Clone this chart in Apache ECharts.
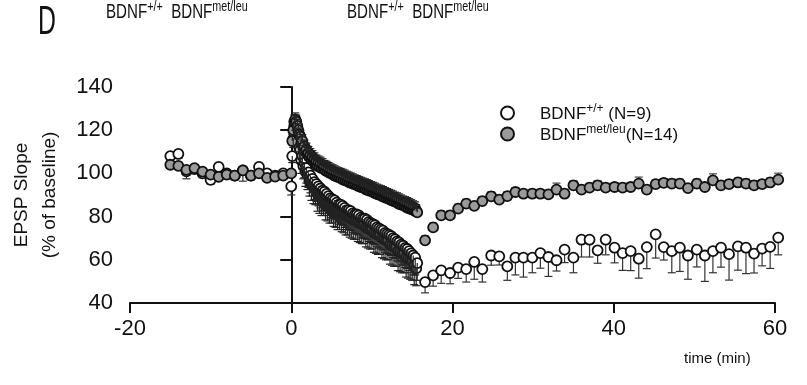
<!DOCTYPE html>
<html>
<head>
<meta charset="utf-8">
<script src="https://cdn.jsdelivr.net/npm/echarts@6/dist/echarts.min.js"></script>
<style>html,body{margin:0;padding:0;background:#fff}#c{width:807px;height:385px}</style>
</head>
<body>
<div id="c"></div>
<script>
// ---- Data ----
// Baseline, 1-min bins
const baseTimes = [-15,-14,-13,-12,-11,-10,-9,-8,-7,-6,-5,-4,-3,-2,-1,0];
const wtBase    = [108,109,101,102,100,97,103,100,99,101.4,99,103,100,99,100,94];
const wtBaseErr = [3,2,3.5,2,2,2,2,2.5,2,5,2,2,2,2,2,4];
const mlBase    = [104,103.5,101.6,102.4,100.8,99.4,98.4,99.4,99,101.4,99,100,97.9,98.5,99,100];
const mlBaseErr = [1.5,1.5,1.5,1.5,1.5,1.5,1.5,1.5,1.5,1.5,1.5,1.5,1.5,1.5,1.5,1.5];

// Dense recording after stimulation (0 - 15.6 min)
const denseTimes = [
  0.125,0.25,0.375,0.5,0.625,0.75,0.875,1,
  1.125,1.25,1.375,1.5,1.625,1.75,1.875,2,
  2.125,2.25,2.375,2.5,2.625,2.75,2.875,3,
  3.125,3.25,3.375,3.5,3.625,3.75,3.875,4,
  4.125,4.25,4.375,4.5,4.625,4.75,4.875,5,
  5.125,5.25,5.375,5.5,5.625,5.75,5.875,6,
  6.125,6.25,6.375,6.5,6.625,6.75,6.875,7,
  7.125,7.25,7.375,7.5,7.625,7.75,7.875,8,
  8.125,8.25,8.375,8.5,8.625,8.75,8.875,9,
  9.125,9.25,9.375,9.5,9.625,9.75,9.875,10,
  10.125,10.25,10.375,10.5,10.625,10.75,10.875,11,
  11.125,11.25,11.375,11.5,11.625,11.75,11.875,12,
  12.125,12.25,12.375,12.5,12.625,12.75,12.875,13,
  13.125,13.25,13.375,13.5,13.625,13.75,13.875,14,
  14.125,14.25,14.375,14.5,14.625,14.75,14.875,15,
  15.125,15.25,15.375,15.5,15.625];
const wtDense = [
  108,116,122,124,121,118,115,112,
  111,106,108,103.5,105,101,102.5,99.5,
  100.5,96.5,99,95.5,97.5,94,96,93.5,
  95,91.5,94,90.5,93,89.5,92,89.5,
  91.5,87.5,90.5,87,89.5,86,88.5,86,
  88,84.5,87.5,84,86.5,83,85.5,83,
  85.5,82,85,81.5,84,80.5,83,80.5,
  83,79.5,82.5,79,81.5,78.5,81,78.5,
  81,77.5,80.5,77,79.5,76.5,79,76.5,
  79,75,78.5,74.5,77.5,74,77,74,
  76.5,72.5,76,72,75,71.5,74.5,71.5,
  74,70,73.5,69.5,72.5,69,72,69,
  71.5,67,71,66.5,70,66,69.5,66,
  68.5,64,68,63.5,67,63,66.5,63,
  65.5,61,65,60.5,64,60,63,59.5,
  62,57.5,61,56,58.5];
const wtDenseErr = [
  3,4,4,4,5,5,5,5,
  6,6,6,6,7,7,7,7,
  7,7,8,8,8,8,8,8,
  8,9,9,9,9,9,9,9,
  9,9,9,9,9,9,9,9,
  9,9,9,9,9,9,9,9,
  9,9,9,9,9,9,9,9,
  9,9,9,9,9,9,9,9,
  9,9,9,9,9,9,9,9,
  9,9,9,9,9,9,9,9,
  9,9,9,9,9,9,9,9,
  9,9,9,9,9,9,9,9,
  9,9,9,9,9,9,9,9,
  9,9,9,9,9,9,9,9,
  9,9,9,9,9,9,9,9,
  9,9,8,8,8];
const mlDense = [
  115,120,124,125,124,122,120,118,
  117,114,115,112,112.5,110,111,109,
  109.5,107.5,108.5,106.5,107.5,105.5,106.5,105,
  105.5,103.5,105,103,104.5,102.5,103.8,102.5,
  103,101.3,102.6,100.8,102,100.3,101.4,100,
  101,99.2,100.5,98.8,100,98.4,99.6,98.2,
  99.3,97.5,98.9,97,98.5,96.7,98,96.5,
  97.6,95.8,97.2,95.5,96.8,95.1,96.3,95,
  96,94.3,95.6,93.9,95.2,93.6,94.8,93.5,
  94.5,92.6,94.1,92.3,93.7,91.9,93.2,91.8,
  92.9,91.1,92.5,90.7,92,90.3,91.6,90.2,
  91.3,89.5,90.9,89.1,90.4,88.7,90,88.6,
  89.6,87.9,89.2,87.5,88.8,87.1,88.3,87,
  88,86.1,87.5,85.7,87,85.4,86.5,85.2,
  86.2,84.4,85.8,84,85.3,83.6,84.8,83.4,
  84.3,82.8,83.8,82.5,82];
const mlDenseErr = [
  3,3,3,3,3,3,3,3,
  3,3,3,3,3,3,3,3,
  3,3,3,3,3,3,3,3,
  3,3,3,3,3,3,3,3,
  3,3,3,3,3,3,3,3,
  3,3,3,3,3,3,3,3,
  3,3,3,3,3,3,3,3,
  3,3,3,3,3,3,3,3,
  3,3,3,3,3,3,3,3,
  3,3,3,3,3,3,3,3,
  3,3,3,3,3,3,3,3,
  3,3,3,3,3,3,3,3,
  3,3,3,3,3,3,3,3,
  3,3,3,3,3,3,3,3,
  3,3,3,3,3,3,3,3,
  3,3,3,3,2];

// Post period, ~1-min bins
const postTimes = [16.6,17.6,18.6,19.7,20.7,21.7,22.7,23.7,24.8,25.8,26.8,27.8,28.8,29.9,30.9,31.9,32.9,33.9,35.0,36.0,
  37.0,38.0,39.0,40.1,41.1,42.1,43.1,44.1,45.2,46.2,47.2,48.2,49.2,50.3,51.3,52.3,53.3,54.3,55.4,56.4,57.4,58.4,59.4,60.4];
const wtPost = [49.7,52.8,55.1,53.9,56.4,55.7,59,55.7,62,61.6,57,61,61,61,63.1,61.3,59.8,64.7,61,69.3,
  69.3,64.4,69.3,65.6,63.1,64,60.5,65.9,71.8,65.9,64,65.6,62,64.7,62,64,65.6,62.6,66.2,65.6,62.9,65.2,66,70.3];
const wtPostErr = [5,5,6,5,5,6,8,6,4.5,4,6.5,8,9,7,7,9,5,6,7,8,
  8,6,7,7,8,9,9,10,11,6,10,11,11,8,12,10,9,12,11,12,9,8,10,8];
const mlPost = [69,75,80.6,80.6,83.7,86,85,87.2,89.4,87.9,89.5,91.4,90.6,90.6,90.6,90.3,92.5,90.6,94.5,92.5,
  93.4,94.5,93.4,93.7,93.4,93.7,95.3,92.5,95,95.6,95.3,95.3,93.2,95.3,93.7,96.8,94.5,95,95.8,95.3,94.5,95,95.8,97.1];
const mlPostErr = [2,2,2,2,2,2,2,2,2,2,2,2,2,2,2,2,3,2,2,2,
  2,2,2,2,2,2,3,2,2,2,2,2,2,2,2,3,2,2,2,2,2,2,2,3];

const xTicks = [-20, 0, 20, 40, 60];
const yTicks = [40, 60, 80, 100, 120, 140];

// ---- build ----
function pairs(t, v) { return t.map((x, i) => [x, v[i]]); }
function triples(t, v, e) { return t.map((x, i) => [x, v[i], e[i]]); }
const allT  = baseTimes.concat(denseTimes, postTimes);
const wtAllV = wtBase.concat(wtDense, wtPost);
const mlAllV = mlBase.concat(mlDense, mlPost);
const sparseT = baseTimes.concat(postTimes);

function errRender(dir, color) {
  return function (params, api) {
    const x = api.value(0), v = api.value(1), e = api.value(2);
    const p0 = api.coord([x, v]);
    const p1 = api.coord([x, v + dir * e]);
    const hw = 4;
    return {
      type: 'group',
      children: [
        { type: 'line', shape: { x1: p0[0], y1: p0[1], x2: p1[0], y2: p1[1] }, style: { stroke: color, lineWidth: 1.2 } },
        { type: 'line', shape: { x1: p1[0] - hw, y1: p1[1], x2: p1[0] + hw, y2: p1[1] }, style: { stroke: color, lineWidth: 1.2 } }
      ]
    };
  };
}

const FONT = '"Liberation Sans", Arial, sans-serif';
const rich = {
  b: { fontSize: 17, fontFamily: FONT, fontWeight: 'normal', color: '#111', lineHeight: 20, verticalAlign: 'bottom' },
  s: { fontSize: 12, fontFamily: FONT, fontWeight: 'normal', color: '#111', lineHeight: 20, verticalAlign: 'top', padding: [0, 0, 8, 0] }
};
const richTop = {
  b: { fontSize: 21, fontFamily: FONT, fontWeight: 'normal', fill: '#111', lineHeight: 24, verticalAlign: 'bottom' },
  s: { fontSize: 15, fontFamily: FONT, fontWeight: 'normal', fill: '#111', lineHeight: 24, verticalAlign: 'top', padding: [0, 0, 10, 0] }
};
const topLabel = '{b|BDNF}{s|+/+}{b|  BDNF}{s|met/leu}';

const chart = echarts.init(document.getElementById('c'));
chart.setOption({
  animation: false,
  backgroundColor: '#fff',
  graphic: { elements: [
    { type: 'text', x: 38, y: 3, scaleX: 0.62, style: { text: 'D', fontSize: 40, fontFamily: FONT, fill: '#111', verticalAlign: 'top' } },
    { type: 'text', x: 106, y: -1, scaleX: 0.72, style: { text: topLabel, rich: richTop, fill: '#111', verticalAlign: 'top' } },
    { type: 'text', x: 347, y: -1, scaleX: 0.72, style: { text: topLabel, rich: richTop, fill: '#111', verticalAlign: 'top' } },
    { type: 'text', x: 684, y: 351, style: { text: 'time (min)', fontSize: 15, fontFamily: FONT, fill: '#111', verticalAlign: 'top' } }
  ] },
  legend: {
    orient: 'vertical',
    left: 495, top: 98,
    itemWidth: 13, itemHeight: 13, itemGap: 1,
    icon: 'circle',
    data: ['wt', 'ml'],
    formatter: function (n) {
      return n === 'wt' ? '{b|BDNF}{s|+/+}{b| (N=9)}' : '{b|BDNF}{s|met/leu}{b|(N=14)}';
    },
    textStyle: { rich: rich, padding: [0, 0, 0, 21] }
  },
  grid: { left: 130, right: 32, top: 87, bottom: 82 },
  xAxis: {
    type: 'value', min: -20, max: 60, interval: 20,
    axisLine: { lineStyle: { color: '#111', width: 2 } },
    axisTick: { show: true, length: 10, lineStyle: { color: '#111', width: 2 } },
    axisLabel: { fontSize: 22, fontFamily: FONT, color: '#111', margin: 15,
      formatter: v => xTicks.includes(v) ? String(v) : '' },
    splitLine: { show: false }
  },
  yAxis: {
    type: 'value', min: 40, max: 140, interval: 20,
    name: 'EPSP Slope\n(% of baseline)', nameLocation: 'middle', nameGap: 66, nameRotate: 90,
    nameTextStyle: { fontSize: 19, fontFamily: FONT, color: '#111', lineHeight: 28 },
    axisLine: { show: true, lineStyle: { color: '#111', width: 2 } },
    axisTick: { show: true, length: 11, lineStyle: { color: '#111', width: 2 } },
    axisLabel: { fontSize: 22, fontFamily: FONT, color: '#111', margin: 17,
      formatter: v => yTicks.includes(v) ? String(v) : '' },
    splitLine: { show: false }
  },
  series: [
    // error bars of the 1-min bins sit beneath the circles
    { type: 'custom', name: 'wtErr', silent: true, clip: false, renderItem: errRender(-1, '#333'),
      encode: { x: 0, y: 1 }, data: triples(sparseT, wtBase.concat(wtPost), wtBaseErr.concat(wtPostErr)), z: 1 },
    { type: 'custom', name: 'mlErr', silent: true, clip: false, renderItem: errRender(1, '#444'),
      encode: { x: 0, y: 1 }, data: triples(sparseT, mlBase.concat(mlPost), mlBaseErr.concat(mlPostErr)), z: 1 },
    { type: 'scatter', name: 'wt', symbol: 'circle', symbolSize: 10, clip: false, z: 2,
      itemStyle: { color: '#ffffff', borderColor: '#111', borderWidth: 1.8, opacity: 1 },
      data: pairs(allT, wtAllV) },
    { type: 'scatter', name: 'ml', symbol: 'circle', symbolSize: 10, clip: false, z: 3,
      itemStyle: { color: '#9a9a9a', borderColor: '#111', borderWidth: 1.8, opacity: 1 },
      data: pairs(allT, mlAllV) },
    // dense recording: error bars overprint the packed circles
    { type: 'custom', name: 'wtErrDense', silent: true, clip: false, renderItem: errRender(-1, '#222'),
      encode: { x: 0, y: 1 }, data: triples(denseTimes, wtDense, wtDenseErr), z: 4 },
    { type: 'custom', name: 'mlErrDense', silent: true, clip: false, renderItem: errRender(1, '#222'),
      encode: { x: 0, y: 1 }, data: triples(denseTimes, mlDense, mlDenseErr), z: 4 }
  ]
});
</script>
</body>
</html>
